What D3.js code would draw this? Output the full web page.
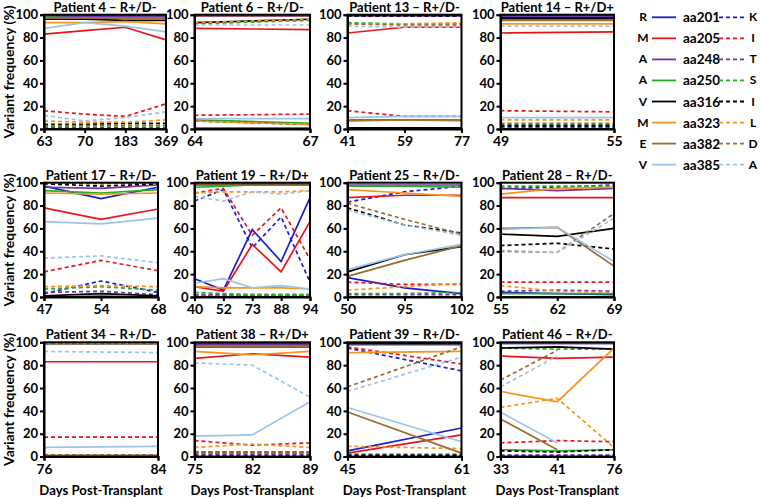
<!DOCTYPE html>
<html><head><meta charset="utf-8">
<script src="https://cdn.jsdelivr.net/npm/d3@7"></script>
<style>body{margin:0;background:#fff}svg{display:block}text{font-family:Lato,"Open Sans",sans-serif;font-weight:bold}</style>
</head><body><svg id="c" width="760" height="497"></svg>
<script>
// ---- data ----
const positions = ["aa201","aa205","aa248","aa250","aa316","aa323","aa382","aa385"];
const refAA = ["R","M","A","A","V","M","E","V"];
const varAA = ["K","I","T","S","I","L","D","A"];
const colors = ["#1c1cd0","#e8141c","#7030a0","#22b022","#000000","#f79420","#9b6a2f","#9dc3e6"];
const titles = ["Patient 4 – R+/D-","Patient 6 – R+/D-","Patient 13 – R+/D-","Patient 14 – R+/D+",
  "Patient 17 – R+/D-","Patient 19 – R+/D+","Patient 25 – R+/D-","Patient 28 – R+/D-",
  "Patient 34 – R+/D-","Patient 38 – R+/D+","Patient 39 – R+/D-","Patient 46 – R+/D-"];
const days = [["63","70","183","369"],["64","67"],["41","59","77"],["49","55"],
  ["47","54","68"],["40","52","73","88","94"],["50","95","102"],["55","62","69"],
  ["76","84"],["75","82","89"],["45","61"],["33","41","76"]];
const yTicks = [0,20,40,60,80,100];
// each: [R,K, M,I, A,T, A,S, V,I, M,L, E,D, V,A] (solid ref, dashed variant)
const p4  = [[99,99,99,99],[1,1,1,1],[83,86,89,78],[16,13,11,22],[99,99,99,99],[1,1,1,1],[98,97,97,97],[2,3,3,3],
  [96,96,95,95],[4,4,5,5],[93,93,94,92],[7,6,6,8],[97,97,97,97],[3,3,3,3],[88,93,90,85],[12,7,10,15]];
const p6  = [[1,1],[99,99],[88,87],[12,13],[99,99],[1,1],[8,5],[92,95],
  [93,96],[7,4],[7,4],[93,96],[1,1],[99,99],[9,9],[91,91]];
const p13 = [[1,1,1],[99,99,99],[84,89,89],[16,11,11],[99,99,99],[1,1,1],[7,8,8],[93,92,92],
  [1,1,1],[99,99,99],[8,8,7],[92,92,93],[8,8,8],[92,91,91],[10,11,11],[90,89,89]];
const p14 = [[98,98],[2,2],[84,85],[16,15],[99,99],[1,1],[96,96],[4,4],
  [97,97],[3,3],[92,92],[8,8],[95,95],[5,5],[10,10],[90,90]];
const p17 = [[97,86,96],[3,14,4],[78,68,77],[22,32,23],[96,95,98],[4,5,2],[93,91,94],[7,9,6],
  [1,3,1],[99,97,99],[91,90,91],[9,10,9],[0,1,0],[100,99,100],[66,64,69],[34,36,30]];
const p19 = [[16,6,59,31,87],[84,94,43,70,13],[9,5,46,22,66],[91,95,54,78,33],[98,98,98,98,98],[2,2,2,2,2],[96,97,98,98,98],[4,3,2,2,2],
  [99,99,99,99,99],[1,1,1,1,1],[9,8,8,8,7],[91,92,92,92,93],[99,99,99,99,99],[1,1,1,1,1],[12,16,8,10,7],[88,84,92,90,93]];
const p25 = [[17,8,3],[83,92,97],[87,89,89],[13,11,11],[98,98,98],[2,2,2],[97,97,96],[3,3,4],
  [22,37,44],[78,63,56],[94,91,88],[6,9,12],[18,32,45],[82,68,55],[24,37,46],[76,63,54]];
const p28 = [[4,3,2],[95,96,98],[87,87,87],[13,13,13],[95,93,95],[5,6,5],[3,3,3],[97,97,97],
  [55,53,60],[45,47,42],[90,95,96],[10,5,4],[60,61,27],[40,39,73],[59,61,31],[41,39,69]];
const p34 = [[99,99],[1,1],[83,83],[17,17],[99,99],[1,1],[99,99],[1,1],
  [99,99],[1,1],[99,99],[1,1],[1,1],[99,99],[8,9],[92,91]];
const p38 = [[99,99,99],[1,1,1],[86,90,87],[14,10,12],[98,98,98],[2,2,2],[97,97,97],[3,3,3],
  [96,96,96],[4,4,4],[92,89,92],[8,11,8],[96,96,96],[4,4,4],[18,19,48],[82,80,52]];
const p39 = [[5,25],[95,75],[3,19],[96,81],[98,98],[2,2],[99,99],[1,1],
  [99,99],[1,1],[91,92],[9,7],[39,3],[61,96],[43,13],[57,87]];
const p46 = [[99,99,99],[1,1,1],[88,86,87],[12,14,13],[99,99,99],[1,1,1],[6,5,6],[95,94,94],
  [95,96,94],[5,4,6],[57,48,95],[43,51,8],[33,6,null],[67,93,null],[39,12,null],[61,88,null]];
const panelData = [p4,p6,p13,p14,p17,p19,p25,p28,p34,p38,p39,p46];

// ---- layout ----
const colX = [44,194.5,347.5,500.5];
const colW = [114,115.5,114,113.5];
const rowY = [14.7,182.7,342.3];
const plotH = 114.3;
const FONT = "Lato, 'Open Sans', sans-serif";

const svg = d3.select("#c");

panelData.forEach((pd, i) => {
  const r = Math.floor(i/4), c = i%4;
  const w = (i===0) ? 122 : colW[c];
  const g = svg.append("g").attr("transform",`translate(${colX[c]},${rowY[r]})`);
  const x = d3.scalePoint().domain(days[i]).range([0,w]);
  const y = d3.scaleLinear().domain([0,100]).range([plotH,0]);
  const line = d3.line().defined(v => v!=null).x((v,j)=>x(days[i][j])).y(v=>y(v));
  pd.forEach((vals, s) => {
    const k = Math.floor(s/2), dashed = s%2===1;
    g.append("path").attr("d", line(vals)).attr("fill","none")
      .attr("stroke", colors[k]).attr("stroke-width",1.7)
      .attr("stroke-dasharray", dashed ? "4,3" : null);
  });
  g.append("rect").attr("x",0).attr("y",0).attr("width",w).attr("height",plotH)
    .attr("fill","none").attr("stroke","#000").attr("stroke-width",2);
  const ya = g.append("g").call(d3.axisLeft(y).tickValues(yTicks).tickSize(4).tickPadding(2));
  const xa = g.append("g").attr("transform",`translate(0,${plotH})`).call(d3.axisBottom(x).tickSize(4).tickPadding(3));
  [ya,xa].forEach(a=>{
    a.select(".domain").attr("stroke-width",2);
    a.selectAll(".tick line").attr("stroke-width",2);
    a.selectAll("text").attr("fill","#000")
      .style("font-family",FONT).style("font-weight","bold");
  });
  ya.selectAll("text").style("font-size","13px");
  xa.selectAll("text").style("font-size","14px");
  g.append("text").attr("x",w/2).attr("y",-3).attr("text-anchor","middle")
    .attr("font-size",13).text(titles[i]);
  if (c===0) {
    g.append("text").attr("transform",`translate(${-30},${plotH/2}) rotate(-90)`)
      .attr("text-anchor","middle").attr("font-size",14).text("Variant frequency (%)");
  }
  if (r===2) {
    g.append("text").attr("x",w/2).attr("y",plotH+38).attr("text-anchor","middle")
      .attr("font-size",13.2).text("Days Post-Transplant");
  }
});

// ---- legend ----
const lg = svg.append("g");
positions.forEach((p,k)=>{
  const yy = 17.3 + k*21.05;
  lg.append("text").attr("x",643).attr("y",yy+4).attr("text-anchor","middle").attr("font-size",12).text(refAA[k]);
  lg.append("line").attr("x1",652).attr("x2",676).attr("y1",yy).attr("y2",yy).attr("stroke",colors[k]).attr("stroke-width",1.8);
  lg.append("text").attr("x",683).attr("y",yy+5).attr("font-size",13.5).text(p);
  lg.append("line").attr("x1",719).attr("x2",747).attr("y1",yy).attr("y2",yy).attr("stroke",colors[k]).attr("stroke-width",1.8).attr("stroke-dasharray","4,3");
  lg.append("text").attr("x",753).attr("y",yy+4).attr("text-anchor","middle").attr("font-size",12).text(varAA[k]);
});
</script></body></html>
